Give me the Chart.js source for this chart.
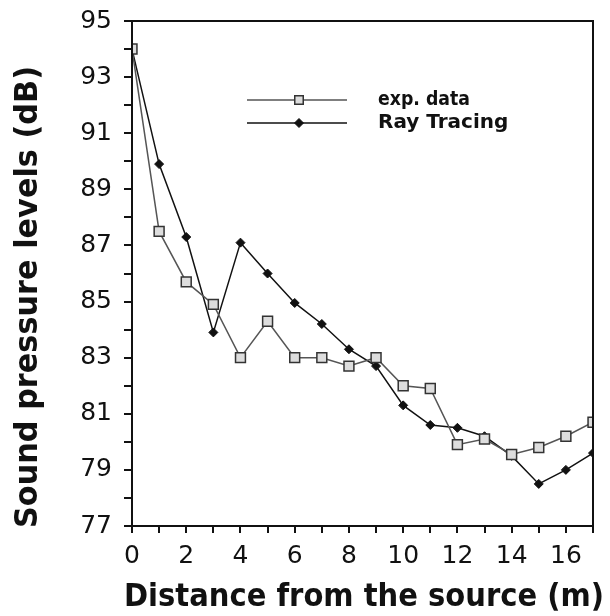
<!DOCTYPE html>
<html lang="en">
<head>
  <meta charset="UTF-8">
  <title>Sound pressure levels</title>
  <script src="https://cdn.jsdelivr.net/npm/chart.js"></script>
  <style>
    html, body { margin: 0; padding: 0; background: #fff; }
    #wrap { width: 610px; height: 616px; }
  </style>
</head>
<body>
  <div id="wrap"><canvas id="splChart" width="610" height="616"></canvas></div>

  <script>
    // distances (m)
    const distances = [0, 1, 2, 3, 4, 5, 6, 7, 8, 9, 10, 11, 12, 13, 14, 15, 16, 17];
    // measured levels (dB)
    const expData = [94.0, 87.5, 85.7, 84.9, 83.0, 84.3, 83.0, 83.0, 82.7, 83.0, 82.0, 81.9, 79.9, 80.1, 79.55, 79.8, 80.2, 80.7];
    // ray tracing prediction (dB)
    const rayTracing = [94.0, 89.9, 87.3, 83.9, 87.1, 86.0, 84.95, 84.2, 83.3, 82.7, 81.3, 80.6, 80.5, 80.2, 79.5, 78.5, 79.0, 79.6];
    const seriesNames = ["exp. data", "Ray Tracing"];
    const xTitle = "Distance from the source (m)";
    const yTitle = "Sound pressure levels (dB)";
    const xLabelValues = [0, 2, 4, 6, 8, 10, 12, 14, 16];
    const yLabelValues = [77, 79, 81, 83, 85, 87, 89, 91, 93, 95];

    const ink = "#111";

    // text squeezed to a given width (old bitmap font look)
    function fitText(ctx, text, x, y, maxW, rot) {
      ctx.save();
      ctx.translate(x, y);
      if (rot) ctx.rotate(rot);
      const w = ctx.measureText(text).width;
      if (w > maxW) ctx.scale(maxW / w, 1);
      ctx.fillText(text, 0, 0);
      ctx.restore();
    }

    // frame, legend and axis titles
    const framePlugin = {
      id: "frame",
      afterDraw(chart) {
        const { ctx, chartArea: a } = chart;
        ctx.save();
        ctx.strokeStyle = ink;
        ctx.lineWidth = 2;
        ctx.strokeRect(a.left, a.top, a.right - a.left, a.bottom - a.top);

        // legend
        const rows = [
          { y: 100, w: 92, ds: chart.data.datasets[0] },
          { y: 123, w: 143, ds: chart.data.datasets[1] }
        ];
        rows.forEach(r => {
          ctx.strokeStyle = r.ds.borderColor;
          ctx.lineWidth = 1.5;
          ctx.beginPath();
          ctx.moveTo(247, r.y);
          ctx.lineTo(347, r.y);
          ctx.stroke();
          ctx.fillStyle = r.ds.pointBackgroundColor;
          ctx.strokeStyle = r.ds.pointBorderColor;
          ctx.lineWidth = r.ds.pointBorderWidth;
          Chart.helpers.drawPoint(ctx, {
            pointStyle: r.ds.pointStyle,
            radius: r.ds.pointStyle === "rect" ? 6 : 4.5,
            borderWidth: r.ds.pointBorderWidth
          }, 299, r.y);
          ctx.fillStyle = ink;
          ctx.font = "bold 20px 'DejaVu Sans'";
          ctx.textBaseline = "middle";
          ctx.textAlign = "left";
          fitText(ctx, r.ds.label, 378, r.y, r.w, 0);
        });

        // axis titles
        ctx.fillStyle = ink;
        ctx.textAlign = "center";
        ctx.textBaseline = "middle";
        ctx.font = "bold 32px 'DejaVu Sans'";
        fitText(ctx, xTitle, 364, 598, 480, 0);
        fitText(ctx, yTitle, 29, 297, 462, -Math.PI / 2);
        ctx.restore();
      }
    };

    new Chart(document.getElementById("splChart"), {
      type: "line",
      data: {
        datasets: [{
          label: seriesNames[0],
          data: distances.map((d, i) => ({ x: d, y: expData[i] })),
          borderColor: "#555",
          borderWidth: 1.5,
          pointStyle: "rect",
          pointRadius: 7,
          pointBorderWidth: 1.5,
          pointBackgroundColor: "#ddd",
          pointBorderColor: "#333",
          backgroundColor: "#ddd",
          tension: 0
        }, {
          label: seriesNames[1],
          data: distances.map((d, i) => ({ x: d, y: rayTracing[i] })),
          borderColor: "#111",
          borderWidth: 1.5,
          pointStyle: "rectRot",
          pointRadius: 4.5,
          pointBorderWidth: 1,
          pointBackgroundColor: "#111",
          pointBorderColor: "#111",
          backgroundColor: "#111",
          tension: 0
        }]
      },
      options: {
        responsive: false,
        animation: false,
        events: [],
        layout: { padding: { top: 21, right: 17, bottom: 0, left: 0 } },
        plugins: { legend: { display: false }, tooltip: { enabled: false } },
        scales: {
          x: {
            type: "linear",
            min: 0,
            max: 17,
            afterFit(scale) { scale.height = 90; scale.paddingLeft = 0; scale.paddingRight = 0; },
            afterBuildTicks(scale) {
              scale.ticks = distances.map(v => ({ value: v }));
            },
            ticks: {
              autoSkip: false,
              maxRotation: 0,
              padding: 8,
              color: ink,
              font: { family: "'DejaVu Sans'", size: 25 },
              callback: v => xLabelValues.includes(v) ? String(v) : ""
            },
            grid: { drawOnChartArea: false, drawTicks: true, tickLength: 7, color: ink, lineWidth: 2 },
            border: { display: true, color: ink, width: 2 }
          },
          y: {
            min: 77,
            max: 95,
            afterFit(scale) { scale.width = 132; scale.paddingTop = 0; scale.paddingBottom = 0; },
            afterBuildTicks(scale) {
              const t = [];
              for (let v = 77; v <= 95; v++) t.push({ value: v });
              scale.ticks = t;
            },
            ticks: {
              autoSkip: false,
              padding: 12,
              color: ink,
              font: { family: "'DejaVu Sans'", size: 25 },
              callback: v => yLabelValues.includes(v) ? String(v) : ""
            },
            grid: { drawOnChartArea: false, drawTicks: true, tickLength: 8, color: ink, lineWidth: 2 },
            border: { display: true, color: ink, width: 2 }
          }
        }
      },
      plugins: [framePlugin]
    });
  </script>
</body>
</html>
